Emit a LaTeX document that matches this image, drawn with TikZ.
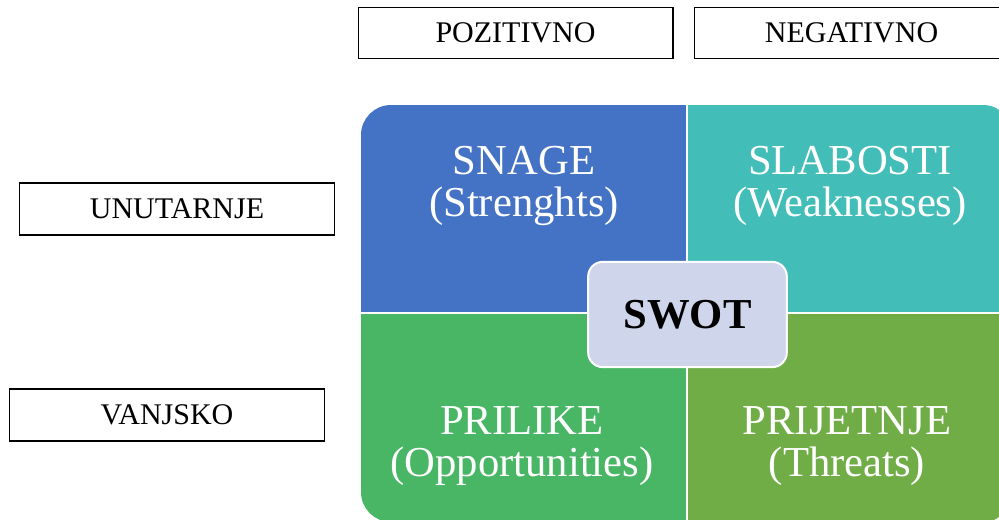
\documentclass[tikz,border=0pt]{standalone}
\usepackage{fontspec}
\setmainfont{Liberation Serif}
\usepackage{tikz}
\usetikzlibrary{positioning}
\definecolor{snage}{HTML}{4472C4}
\definecolor{slabosti}{HTML}{43BDB8}
\definecolor{prilike}{HTML}{48B664}
\definecolor{prijetnje}{HTML}{70AD47}
\definecolor{swotfill}{HTML}{CFD5EA}

\begin{document}
\begin{tikzpicture}[x=0.75pt,y=-0.75pt,
  oznaka/.style={draw=black,line width=1pt,fill=white,inner sep=0pt,
    minimum width=236pt,minimum height=38pt,font=\fontsize{22.5}{24}\selectfont},
  polje/.style={text=white,align=center,inner sep=0pt,font=\fontsize{32}{32}\selectfont}]

  \newcommand\XL{361};
  \newcommand\XM{687};
  \newcommand\XR{1013};
  \newcommand\YT{105};
  \newcommand\YM{313};
  \newcommand\YB{522};

  \clip (0,0) rectangle (999,520);

  %% oznake
  \node[oznaka] (poz) at (515.5,33) {POZITIVNO};
  \node[oznaka] (neg) at (851.5,33) {NEGATIVNO};
  \node[oznaka,minimum height=39pt] (unu) at (177,209) {UNUTARNJE};
  \node[oznaka,minimum height=39pt] (van) at (167,415) {VANJSKO};

  %% kvadranti
  \begin{scope}
    \clip[rounded corners=22.5pt] (\XL,\YT) rectangle (\XR,\YB);
    \fill[snage] (\XL,\YT) rectangle (\XM,\YM);
    \fill[slabosti] (\XM,\YT) rectangle (\XR,\YM);
    \fill[prilike] (\XL,\YM) rectangle (\XM,\YB);
    \fill[prijetnje] (\XM,\YM) rectangle (\XR,\YB);
  \end{scope}
  \draw[white,line width=1.2pt] (\XM,\YT) -- (\XM,\YB);
  \draw[white,line width=1.2pt] (\XL,\YM) -- (\XR,\YM);

  \node[polje] (s) at (524,186) {SNAGE\\(Strenghts)};
  \node[polje] (w) at (850,186) {SLABOSTI\\(Weaknesses)};
  \node[polje] (o) at (522,446) {PRILIKE\\(Opportunities)};
  \node[polje] (t) at (847,446) {PRIJETNJE\\(Threats)};

  %% sredina
  \node[draw=white,line width=1.5pt,fill=swotfill,rounded corners=11pt,
    minimum width=149pt,minimum height=79pt,
    font=\fontsize{32}{32}\selectfont\bfseries] (swot) at (687.5,314.5) {SWOT};

\end{tikzpicture}
\end{document}
